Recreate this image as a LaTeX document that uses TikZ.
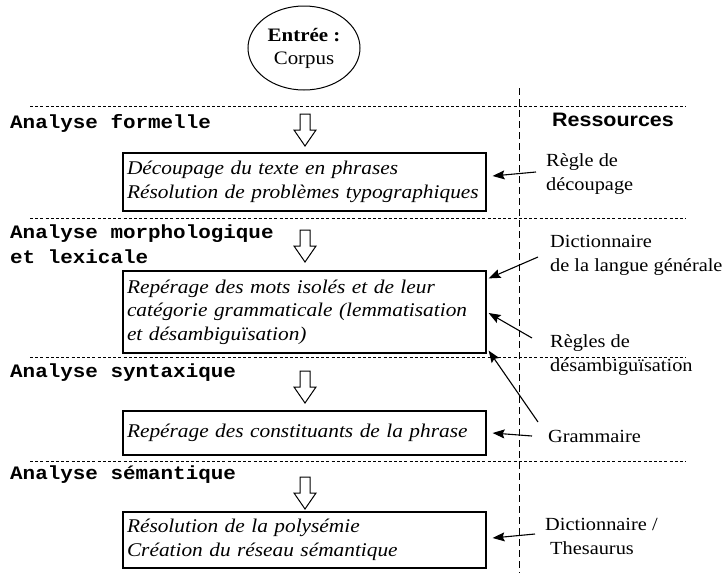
\documentclass[tikz,border=0pt]{standalone}
\usepackage{fontspec}
\setmainfont[FakeStretch=1.1]{Liberation Serif}
\newfontfamily\stagefont[FakeStretch=1.1]{Liberation Mono}
\newfontfamily\headfont[FakeStretch=1.1]{Liberation Sans}
\usetikzlibrary{shapes.geometric,arrows.meta}
\begin{document}
\begin{tikzpicture}[x=1pt,y=-1pt,
  sepline/.style={line width=1pt, dash pattern=on 3pt off 2.2pt},
  vsepline/.style={line width=1pt, dash pattern=on 7pt off 4pt},
  stage/.style={anchor=west, inner sep=0pt, font=\stagefont\bfseries\fontsize{19}{23}\selectfont},
  procbox/.style={draw, line width=1.2pt, minimum width=363pt, text width=355pt, inner xsep=4pt, inner ysep=2pt, align=left, font=\itshape\fontsize{19.4}{23.5}\selectfont},
  res/.style={anchor=west, inner sep=0pt, align=left, font=\fontsize{18.5}{24}\selectfont},
  link/.style={line width=1.1pt, -{Stealth[length=12pt,width=9pt,inset=2pt]}},
  downarrow/.pic={\draw[line width=1pt, line join=miter, fill=white] (-5,0) -- (5,0) -- (5,16) -- (11,16) -- (0,32) -- (-11,16) -- (-5,16) -- cycle;}
]
\useasboundingbox (0,0) rectangle (725,573);
\fill[white] (0,0) rectangle (725,573);

% input
\node[ellipse, draw, line width=1pt, minimum width=106pt, minimum height=84pt, align=center, font=\fontsize{19}{23}\selectfont] (entree) at (304,48) {\textbf{Entrée :}\\Corpus};

% separators
\draw[vsepline] (519,88) coordinate (vtop) -- (519,573) coordinate (vbot);
\draw[sepline] (30,106) coordinate (s1a) -- (686,106) coordinate (s1b);
\draw[sepline] (30,218) coordinate (s2a) -- (686,218) coordinate (s2b);
\draw[sepline] (30,357) coordinate (s3a) -- (686,357) coordinate (s3b);
\draw[sepline] (30,461) coordinate (s4a) -- (686,461) coordinate (s4b);

% stage labels
\node[stage] (l1) at (10,123) {Analyse formelle};
\node[stage] (l2a) at (10,234) {Analyse morphologique};
\node[stage] (l2b) at (10,257) {et lexicale};
\node[stage] (l3) at (10,373) {Analyse syntaxique};
\node[stage] (l4) at (10,475) {Analyse sémantique};
\node[anchor=west, inner sep=0pt, font=\headfont\bfseries\fontsize{19.5}{23}\selectfont] (ress) at (552,120) {Ressources};

% hollow arrows
\pic at (305,114) {downarrow};
\pic at (305,230) {downarrow};
\pic at (305,371) {downarrow};
\pic at (305,477) {downarrow};

% process boxes
\node[procbox, minimum height=58pt] (b1) at (304.5,182) {Découpage du texte en phrases\\Résolution de problèmes typographiques};
\node[procbox, minimum height=82pt] (b2) at (304.5,312) {Repérage des mots isolés et de leur\\catégorie grammaticale (lemmatisation\\et désambiguïsation)};
\node[procbox, minimum height=44pt] (b3) at (304.5,433) {Repérage des constituants de la phrase};
\node[procbox, minimum height=56pt] (b4) at (304.5,540) {Résolution de la polysémie\\Création du réseau sémantique};

% resources
\node[res] (r1) at (546,174) {Règle de\\découpage};
\node[res] (r2) at (550,255) {Dictionnaire\\de la langue générale};
\node[res] (r3) at (550,355) {Règles de\\désambiguïsation};
\node[res] (r4) at (548,436) {Grammaire};
\node[res] (r5) at (545,536) {Dictionnaire /\\\hspace*{5pt}Thesaurus};

% links
\draw[link] ([xshift=-10pt,yshift=2pt]r1.west) -- ([xshift=6pt]b1.east |- 0,176);
\draw[link] ([xshift=-12pt,yshift=-2pt]r2.west) -- ([shift={(2,8)}]b2.north east);
\draw[link] ([shift={(-18,-17)}]r3.west) -- ([shift={(2,1)}]b2.east);
\draw[link] ([shift={(-10,-14)}]r4.west) -- ([shift={(2,-3)}]b2.south east);
\draw[link] ([xshift=-16pt]r4.west) -- ([xshift=6pt]b3.east);
\draw[link] ([xshift=-10pt,yshift=2pt]r5.west) -- ([xshift=6pt]b4.east |- 0,538);
\end{tikzpicture}
\end{document}
